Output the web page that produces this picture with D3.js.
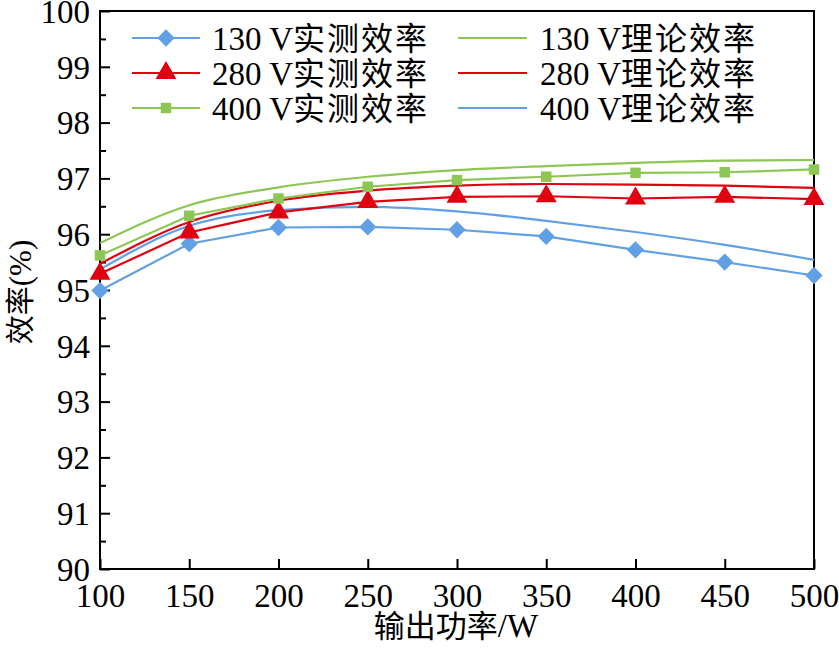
<!DOCTYPE html>
<html><head><meta charset="utf-8">
<script src="https://cdn.jsdelivr.net/npm/d3@7"></script>
<style>
body{margin:0;background:#fff;}
svg{display:block;}
svg text, svg tspan{font-family:"Liberation Serif","Times New Roman","Nimbus Roman","DejaVu Serif",serif;fill:#000;}
svg tspan.cjk{font-family:"Noto Sans CJK SC","Noto Sans CJK JP",sans-serif;}
</style></head>
<body><svg id="c" width="839" height="657"></svg>
<script>
const power = [100,150,200,250,300,350,400,450,500];
const meas130 = [94.99,95.83,96.12,96.13,96.08,95.96,95.72,95.50,95.26];
const meas280 = [95.29,96.03,96.39,96.58,96.67,96.68,96.64,96.67,96.63];
const meas400 = [95.62,96.33,96.64,96.85,96.97,97.03,97.10,97.11,97.16];
const theoryGreen = [95.84,96.52,96.84,97.03,97.15,97.22,97.28,97.32,97.33];
const theoryRed = [95.47,96.22,96.60,96.78,96.87,96.90,96.89,96.87,96.83];
const theoryBlue = [95.37,96.15,96.43,96.49,96.41,96.24,96.04,95.81,95.54];
const xTicks = [100,150,200,250,300,350,400,450,500];
const yTicks = [90,91,92,93,94,95,96,97,98,99,100];
const yMinor = [90.5,91.5,92.5,93.5,94.5,95.5,96.5,97.5,98.5,99.5];
const legendMeasured = [["130 V","实测效率"],["280 V","实测效率"],["400 V","实测效率"]];
const legendTheory = [["130 V","理论效率"],["280 V","理论效率"],["400 V","理论效率"]];
const xTitle = ["输出功率","/W"];
const yTitle = ["效率","(%)"];

const BLUE="#62a0e6", RED="#e0000f", GREEN="#8cc653";
const SERIF='"Liberation Serif","Times New Roman","Nimbus Roman","DejaVu Serif",serif';

const svg=d3.select("#c");
const L=100,R=814,T=11,B=569;
const x=d3.scaleLinear().domain([100,500]).range([L,R]);
const y=d3.scaleLinear().domain([90,100]).range([B,T]);

// frame
svg.append("rect").attr("x",L).attr("y",T).attr("width",R-L).attr("height",B-T)
  .attr("fill","none").attr("stroke","#000").attr("stroke-width",2);

// axes
const xAx=svg.append("g").attr("transform",`translate(0,${B})`)
  .call(d3.axisBottom(x).tickValues(xTicks).tickSize(-10).tickPadding(22).tickFormat(d3.format("d")));
const yAx=svg.append("g").attr("transform",`translate(${L},0)`)
  .call(d3.axisLeft(y).tickValues(yTicks).tickSize(-10).tickPadding(14).tickFormat(d3.format("d")));
svg.append("g").attr("transform",`translate(${L},0)`)
  .call(d3.axisLeft(y).tickValues(yMinor).tickSize(-6).tickFormat(""))
  .call(g=>g.select(".domain").remove());
[xAx,yAx].forEach(g=>{
  g.attr("font-family",SERIF);
  g.select(".domain").remove();
  g.selectAll("text").attr("font-size",33).style("font-family",SERIF).attr("fill","#000");
});
svg.selectAll("g line").attr("stroke","#000").attr("stroke-width",2);
xAx.selectAll("text").attr("dy","0.71em").attr("y",15);
yAx.selectAll("text").attr("dy","0.34em").attr("x",-10);

const lin=d3.line().x((d,i)=>x(power[i])).y(d=>y(d));
const smooth=d3.line().x((d,i)=>x(power[i])).y(d=>y(d)).curve(d3.curveMonotoneX);

const plot=svg.append("g");
[[theoryGreen,GREEN],[theoryRed,RED],[theoryBlue,BLUE]].forEach(([d,c])=>{
  plot.append("path").datum(d).attr("d",smooth).attr("fill","none").attr("stroke",c).attr("stroke-width",2.2);
});
const series=[[meas130,BLUE,"diamond"],[meas280,RED,"triangle"],[meas400,GREEN,"square"]];
function marker(kind){
  if(kind==="diamond") return d3.symbol().type(d3.symbolSquare).size(150)();
  if(kind==="triangle") return d3.symbol().type(d3.symbolTriangle).size(190)();
  return d3.symbol().type(d3.symbolSquare).size(110)();
}
function mTransform(kind,px,py){
  return `translate(${px},${py})`+(kind==="diamond"?" rotate(45)":"");
}
series.forEach(([d,c])=>{
  plot.append("path").datum(d).attr("d",lin).attr("fill","none").attr("stroke",c).attr("stroke-width",2.2);
});
series.forEach(([d,c,kind])=>{
  plot.selectAll(null).data(d).enter().append("path")
    .attr("d",marker(kind))
    .attr("transform",(v,i)=>mTransform(kind,x(power[i]),y(v)))
    .attr("fill",c);
});

// legend
const rowsY=[38,73,108];
function legText(xp,yp,parts){
  const t=svg.append("text").attr("x",xp).attr("y",yp).attr("dy","0.36em").attr("font-size",33);
  t.append("tspan").text(parts[0]);
  t.append("tspan").attr("class","cjk").attr("font-size",32).attr("letter-spacing",2).text(parts[1]);
}
legendMeasured.forEach((p,i)=>{
  const [ , c, kind]=series[i];
  svg.append("line").attr("x1",132).attr("x2",200).attr("y1",rowsY[i]).attr("y2",rowsY[i]).attr("stroke",c).attr("stroke-width",2.2);
  svg.append("path").attr("d",marker(kind)).attr("transform",mTransform(kind,166,rowsY[i])).attr("fill",c);
  legText(212,rowsY[i],p);
});
const theoryColors=[GREEN,RED,BLUE];
legendTheory.forEach((p,i)=>{
  svg.append("line").attr("x1",458).attr("x2",527).attr("y1",rowsY[i]).attr("y2",rowsY[i]).attr("stroke",theoryColors[i]).attr("stroke-width",2.2);
  legText(540,rowsY[i],p);
});

// titles
const xt=svg.append("text").attr("x",456).attr("y",637).attr("text-anchor","middle").attr("font-size",33);
xt.append("tspan").attr("class","cjk").attr("font-size",31).text(xTitle[0]);
xt.append("tspan").text(xTitle[1]);
const yt=svg.append("text").attr("transform","translate(31,292) rotate(-90)").attr("text-anchor","middle").attr("font-size",31);
yt.append("tspan").attr("class","cjk").attr("font-size",29).text(yTitle[0]);
yt.append("tspan").text(yTitle[1]);
</script></body></html>
